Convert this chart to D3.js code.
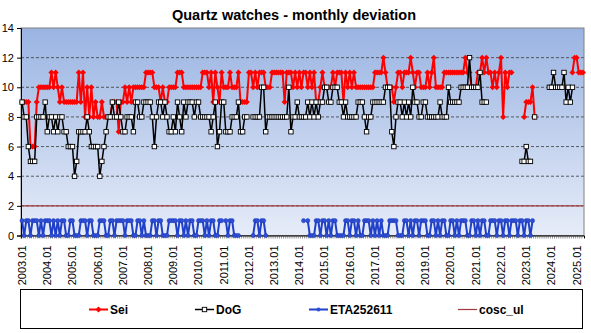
<!DOCTYPE html>
<html>
<head>
<meta charset="utf-8">
<script src="https://cdn.jsdelivr.net/npm/d3@7"></script>
<style>
  body { margin: 0; background: #fff; }
  svg { display: block; font-family: "Liberation Sans", Arial, sans-serif; }
</style>
</head>
<body>
<svg id="chart" width="591" height="333"></svg>
<script>
// ---- data ---------------------------------------------------------------
const N = null;                      // month without a reading
const firstYear = 2003;
const lastCategory = "2025.04";
const chartTitle = "Quartz watches - monthly deviation";
const seriesNames = ["Sei", "DoG", "ETA252611", "cosc_ul"];
const yTicks = [0, 2, 4, 6, 8, 10, 12, 14];
const tickLabels = ["2003.01","2004.01","2005.01","2006.01","2007.01","2008.01",
  "2009.01","2010.01","2011.01","2012.01","2013.01","2014.01","2015.01","2016.01",
  "2017.01","2018.01","2019.01","2020.01","2021.01","2022.01","2023.01","2024.01","2025.01"];

// monthly deviation, one row per year (Jan..Dec)
const seiRows = [
  [9,9,9,9,6,6,6,9,10,10,10,10],
  [10,10,11,10,11,10,9,10,9,9,9,9],
  [9,9,9,11,9,11,8,10,8,10,8,9],
  [8,8,9,8,8,8,8,9,9,9,7,9],
  [9,10,9,10,9,10,10,10,10,10,10,11],
  [11,11,11,10,10,10,9,10,9,9,10,10],
  [10,10,11,11,11,10,10,10,10,10,10,10],
  [10,10,11,11,11,10,11,9,11,10,9,11],
  [10,10,10,11,10,10,10,11,9,9,9,9],
  [11,11,10,11,10,11,11,11,10,10,10,11],
  [11,11,11,11,11,9,11,11,11,10,11,10],
  [11,10,11,11,10,11,10,11,9,9,10,11],
  [10,10,10,10,11,10,11,11,11,9,11,10],
  [11,10,11,10,10,10,10,10,10,10,10,10],
  [11,11,11,11,12,11,10,10,10,9,10,11],
  [11,10,11,11,11,12,11,10,11,11,10,10],
  [10,11,10,11,12,10,10,10,10,11,11,11],
  [11,11,11,11,11,11,11,12,11,11,10,10],
  [10,11,11,12,11,12,11,11,10,11,10,11],
  [12,8,11,10,11,11,N,N,N,N,N,8],
  [9,9,9,10,8,N,N,N,N,N,N,N],
  [N,N,N,N,N,N,N,N,N,N,11,12],
  [12,11,11,11]
];

const dogRows = [
  [9,8,8,6,5,5,5,8,8,8,8,9],
  [7,8,8,7,8,7,8,8,7,7,6,6],
  [6,4,5,7,7,7,7,8,7,6,6,6],
  [6,4,5,6,7,8,8,9,8,8,9,8],
  [7,7,8,8,8,7,9,9,8,8,9,9],
  [9,9,8,6,8,9,9,8,9,8,7,7],
  [8,7,9,8,7,9,8,9,9,9,8,9],
  [9,8,8,8,8,8,7,8,9,6,7,9],
  [9,7,7,7,8,8,8,9,7,7,8,8],
  [N,N,8,8,8,8,10,10,7,8,8,8],
  [8,8,8,8,8,8,8,10,7,8,8,9],
  [8,8,8,8,9,8,9,8,9,8,9,9],
  [10,10,9,9,10,10,10,9,9,8,9,8],
  [8,8,8,8,9,9,9,8,7,8,8,9],
  [9,9,9,9,9,10,10,10,7,6,8,9],
  [9,8,9,8,9,8,10,9,9,8,8,9],
  [9,8,8,8,8,8,8,9,8,8,8,10],
  [9,9,9,9,9,10,10,10,10,12,10,10],
  [10,10,11,9,9,9,N,N,N,N,N,N],
  [N,N,N,N,N,N,N,N,N,N,5,5],
  [6,5,5,N,8,N,N,N,N,N,N,10],
  [10,11,10,10,10,10,11,9,10,9,10,N],
  [N,N,N,N]
];

const etaRows = [
  [1,0,1,1,0,1,1,1,0,1,0,1],
  [1,1,0,1,0,1,0,1,1,0,0,1],
  [1,0,0,0,1,1,1,0,1,1,0,0],
  [0,1,1,1,0,0,1,1,0,1,1,1],
  [1,0,1,1,1,0,0,1,1,0,1,0],
  [0,0,1,1,0,1,1,0,0,0,1,1],
  [1,1,0,1,1,0,1,0,1,1,0,0],
  [1,1,1,0,1,0,1,1,0,0,1,1],
  [N,1,0,1,1,0,0,0,N,N,N,N],
  [N,N,0,1,1,0,1,1,0,N,N,N],
  [N,N,N,N,N,N,N,N,N,N,N,N],
  [N,N,1,N,1,0,0,0,1,1,0,1],
  [1,0,1,0,1,1,0,0,0,0,1,1],
  [0,1,1,0,1,0,0,1,1,1,0,1],
  [0,1,0,1,0,0,0,1,1,1,1,0],
  [0,0,1,1,0,1,0,1,1,0,1,1],
  [1,0,0,1,1,0,1,0,1,1,0,0],
  [1,1,0,1,0,1,1,1,0,0,1,1],
  [0,1,0,1,1,0,0,1,1,1,0,1],
  [1,0,1,1,0,1,1,1,0,1,1,0],
  [1,1,0,1,N,N,N,N,N,N,N,N],
  [N,N,N,N,N,N,N,N,N,N,N,N],
  [N,N,N,N]
];

const coscUl = 2;   // upper limit line

// ---- categories ---------------------------------------------------------
const categories = [];
for (let yr = firstYear; ; yr++) {
  let done = false;
  for (let m = 1; m <= 12; m++) {
    const c = yr + "." + String(m).padStart(2, "0");
    categories.push(c);
    if (c === lastCategory) { done = true; break; }
  }
  if (done) break;
}
const sei = seiRows.flat();
const dog = dogRows.flat();
const eta = etaRows.flat();

// ---- layout -------------------------------------------------------------
const W = 591, H = 333;
const plot = { left: 21, right: 584, top: 28, bottom: 235.5 };

const svg = d3.select("#chart");
svg.append("rect").attr("width", W).attr("height", H).attr("fill", "#fff");

const x = d3.scaleBand().domain(categories).range([plot.left, plot.right]).padding(0);
const xc = c => x(c) + x.bandwidth() / 2;
const y = d3.scaleLinear().domain([0, 14]).range([plot.bottom, plot.top]);

// plot background gradient
const defs = svg.append("defs");
const grad = defs.append("linearGradient").attr("id", "bg")
  .attr("x1", 0).attr("y1", 0).attr("x2", 0).attr("y2", 1);
grad.append("stop").attr("offset", "0%").attr("stop-color", "#9ab4e2");
grad.append("stop").attr("offset", "100%").attr("stop-color", "#e6ecf8");

svg.append("rect")
  .attr("x", plot.left).attr("y", plot.top)
  .attr("width", plot.right - plot.left).attr("height", plot.bottom - plot.top)
  .attr("fill", "url(#bg)");

// dashed gridlines
svg.append("g").selectAll("line")
  .data(yTicks.filter(v => v > 0 && v < 14))
  .join("line")
  .attr("x1", plot.left).attr("x2", plot.right)
  .attr("y1", d => y(d)).attr("y2", d => y(d))
  .attr("stroke", "#3a3a3a").attr("stroke-width", 0.8)
  .attr("stroke-dasharray", "3,2");

// plot frame
svg.append("rect")
  .attr("x", plot.left).attr("y", plot.top)
  .attr("width", plot.right - plot.left).attr("height", plot.bottom - plot.top)
  .attr("fill", "none").attr("stroke", "#808080").attr("stroke-width", 1);

// y axis
const yAxis = svg.append("g")
  .attr("transform", `translate(${plot.left},0)`)
  .call(d3.axisLeft(y).tickValues(yTicks).tickSize(4).tickPadding(3).tickFormat(d3.format("d")));
yAxis.select(".domain").attr("stroke", "#000");
yAxis.selectAll(".tick line").attr("stroke", "#000");
yAxis.selectAll("text").attr("font-size", 11).attr("fill", "#000")
  .attr("font-family", "Liberation Sans, Arial, sans-serif");

// x axis: a tick per month, labels every January
const xAxis = svg.append("g")
  .attr("transform", `translate(0,${plot.bottom})`)
  .call(d3.axisBottom(x).tickValues(categories).tickSize(3)
    .tickFormat(d => tickLabels.includes(d) ? d : ""));
xAxis.select(".domain").attr("stroke", "#000");
xAxis.selectAll(".tick line").attr("stroke", "#444").attr("stroke-width", 0.6)
  .attr("transform", `translate(${-x.bandwidth() / 2},0)`);
xAxis.selectAll("text")
  .attr("font-size", 11).attr("fill", "#000")
  .attr("font-family", "Liberation Sans, Arial, sans-serif")
  .attr("transform", "rotate(-90)")
  .attr("x", -10).attr("y", 0).attr("dy", "0.35em")
  .attr("text-anchor", "end");

// ---- series ---------------------------------------------------------------
const lineGen = d3.line()
  .defined(d => d.v !== null)
  .x(d => xc(d.c)).y(d => y(d.v));

function pts(values) {
  return categories.map((c, i) => ({ c, v: i < values.length ? values[i] : null }));
}

const diamond = r => `M0,${-r}L${r},0L0,${r}L${-r},0Z`;

// Sei
const seiPts = pts(sei);
svg.append("path").datum(seiPts).attr("d", lineGen)
  .attr("fill", "none").attr("stroke", "#ff0000").attr("stroke-width", 2);
svg.append("g").selectAll("path").data(seiPts.filter(d => d.v !== null)).join("path")
  .attr("d", diamond(3))
  .attr("transform", d => `translate(${xc(d.c)},${y(d.v)})`)
  .attr("fill", "#ff0000");

// DoG
const dogPts = pts(dog);
svg.append("path").datum(dogPts).attr("d", lineGen)
  .attr("fill", "none").attr("stroke", "#000").attr("stroke-width", 1.5);
svg.append("g").selectAll("rect").data(dogPts.filter(d => d.v !== null)).join("rect")
  .attr("x", d => xc(d.c) - 2.2).attr("y", d => y(d.v) - 2.2)
  .attr("width", 4.4).attr("height", 4.4)
  .attr("fill", "#fff").attr("stroke", "#000").attr("stroke-width", 0.9);

// ETA252611
const etaPts = pts(eta);
svg.append("path").datum(etaPts).attr("d", lineGen)
  .attr("fill", "none").attr("stroke", "#2040c8").attr("stroke-width", 2);
svg.append("g").selectAll("circle").data(etaPts.filter(d => d.v !== null)).join("circle")
  .attr("cx", d => xc(d.c)).attr("cy", d => y(d.v)).attr("r", 2.1)
  .attr("fill", "#2e4fd6").attr("stroke", "#1a36b0").attr("stroke-width", 0.5);

// cosc_ul limit
svg.append("line")
  .attr("x1", xc(categories[0])).attr("x2", xc(categories[categories.length - 1]))
  .attr("y1", y(coscUl)).attr("y2", y(coscUl))
  .attr("stroke", "#a23a3a").attr("stroke-width", 1.2);

// ---- title ----------------------------------------------------------------
svg.append("text")
  .attr("x", 294).attr("y", 20)
  .attr("text-anchor", "middle")
  .attr("font-size", 14.5).attr("font-weight", "bold")
  .text(chartTitle);

// ---- legend ---------------------------------------------------------------
const legend = svg.append("g");
legend.append("rect")
  .attr("x", 20.5).attr("y", 289.5).attr("width", 562).attr("height", 39)
  .attr("fill", "#fff").attr("stroke", "#000").attr("stroke-width", 1);

const legendX = [89, 195, 309, 458];
const ly = 309.5;
seriesNames.forEach((name, i) => {
  const g = legend.append("g").attr("transform", `translate(${legendX[i]},${ly})`);
  const colors = ["#ff0000", "#000", "#2040c8", "#a23a3a"];
  g.append("line").attr("x1", 0).attr("x2", 19).attr("y1", 0).attr("y2", 0)
    .attr("stroke", colors[i]).attr("stroke-width", i === 3 ? 1.2 : (i === 1 ? 1.5 : 2));
  if (i === 0) g.append("path").attr("d", diamond(3)).attr("transform", "translate(9.5,0)").attr("fill", "#ff0000");
  if (i === 1) g.append("rect").attr("x", 7.3).attr("y", -2.2).attr("width", 4.4).attr("height", 4.4)
    .attr("fill", "#fff").attr("stroke", "#000").attr("stroke-width", 0.9);
  if (i === 2) g.append("circle").attr("cx", 9.5).attr("cy", 0).attr("r", 2.1).attr("fill", "#2e4fd6");
  g.append("text").attr("x", 21).attr("y", 0).attr("dy", "0.35em")
    .attr("font-size", 12).attr("font-weight", "bold").text(name);
});
</script>
</body>
</html>
